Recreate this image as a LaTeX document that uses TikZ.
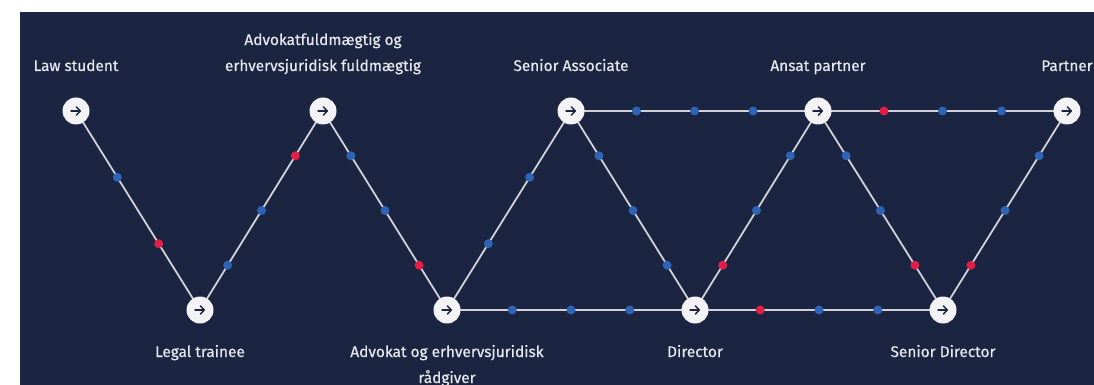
\documentclass[tikz,border=0pt]{standalone}
\usepackage{fontspec}
\setmainfont{Fira Sans}
\newfontfamily\labelfont{Fira Sans}[FakeBold=0.5]
\usetikzlibrary{backgrounds,arrows.meta}
\definecolor{navy}{RGB}{27,36,64}
\definecolor{track}{RGB}{208,210,216}
\definecolor{stepfill}{RGB}{243,243,245}
\definecolor{labeltext}{RGB}{232,233,238}
\definecolor{dotblue}{RGB}{47,99,181}
\definecolor{dotred}{RGB}{224,30,72}
\tikzset{
  career/.style={circle, fill=stepfill, minimum size=27pt, inner sep=0pt,
    path picture={\draw[navy, line width=1.5pt, line cap=round,
        -{Straight Barb[length=3.8pt,width=8pt,line cap=round,line join=round]}]
      ([xshift=-5pt]path picture bounding box.center) -- ([xshift=5pt]path picture bounding box.center);}},
  title/.style={anchor=base, text=labeltext, font=\labelfont\fontsize{15.4}{18}\selectfont, inner sep=0pt},
  track/.style={draw=track, line width=1.8pt},
  bdot/.style={circle, fill=dotblue, minimum size=9pt, inner sep=0pt},
  rdot/.style={circle, fill=dotred, minimum size=9pt, inner sep=0pt},
}
\begin{document}
\begin{tikzpicture}[x=1pt, y=-1pt]
\useasboundingbox (0,0) rectangle (1094,385);

% career steps
\node[career] (law)  at (76,111)  {};
\node[career] (trn)  at (200,310) {};
\node[career] (advf) at (323,111) {};
\node[career] (adv)  at (447,310) {};
\node[career] (sa)   at (571,111) {};
\node[career] (dir)  at (695,310) {};
\node[career] (ap)   at (818,111) {};
\node[career] (sd)   at (943,310) {};
\node[career] (par)  at (1067,111) {};

% titles
\node[title] (tlaw)  at (76,71)  {Law student};
\node[title] (tadvf1) at (323,45) {Advokatfuldmægtig og};
\node[title] (tadvf2) at (323,71) {erhvervsjuridisk fuldmægtig};
\node[title] (tsa)   at (571,71) {Senior Associate};
\node[title] (tap)   at (818,71) {Ansat partner};
\node[title] (tpar)  at (1067,71) {Partner};
\node[title] (ttrn)  at (200,357) {Legal trainee};
\node[title] (tadv1) at (447,357) {Advokat og erhvervsjuridisk};
\node[title] (tadv2) at (447,383) {rådgiver};
\node[title] (tdir)  at (695,357) {Director};
\node[title] (tsd)   at (943,357) {Senior Director};

\begin{scope}[on background layer]
  \fill[navy] (20,12) rectangle (1094,385);
  % paths between steps
  \path[track] (law.center) -- (trn.center)
    node[bdot, pos=0.333] {} node[rdot, pos=0.667] {};
  \path[track] (trn.center) -- (advf.center)
    node[bdot, pos=0.225] {} node[bdot, pos=0.5] {} node[rdot, pos=0.775] {};
  \path[track] (advf.center) -- (adv.center)
    node[bdot, pos=0.225] {} node[bdot, pos=0.5] {} node[rdot, pos=0.775] {};
  \path[track] (adv.center) -- (sa.center)
    node[bdot, pos=0.333] {} node[bdot, pos=0.667] {};
  \path[track] (adv.center) -- (dir.center)
    node[bdot, pos=0.263] {} node[bdot, pos=0.5] {} node[bdot, pos=0.737] {};
  \path[track] (sa.center) -- (dir.center)
    node[bdot, pos=0.225] {} node[bdot, pos=0.5] {} node[bdot, pos=0.775] {};
  \path[track] (sa.center) -- (ap.center)
    node[bdot, pos=0.265] {} node[bdot, pos=0.5] {} node[bdot, pos=0.737] {};
  \path[track] (dir.center) -- (ap.center)
    node[rdot, pos=0.225] {} node[bdot, pos=0.5] {} node[bdot, pos=0.775] {};
  \path[track] (dir.center) -- (sd.center)
    node[rdot, pos=0.263] {} node[bdot, pos=0.5] {} node[bdot, pos=0.737] {};
  \path[track] (ap.center) -- (sd.center)
    node[bdot, pos=0.225] {} node[bdot, pos=0.5] {} node[rdot, pos=0.775] {};
  \path[track] (ap.center) -- (par.center)
    node[rdot, pos=0.265] {} node[bdot, pos=0.5] {} node[bdot, pos=0.737] {};
  \path[track] (sd.center) -- (par.center)
    node[rdot, pos=0.225] {} node[bdot, pos=0.5] {} node[bdot, pos=0.775] {};
\end{scope}
\end{tikzpicture}
\end{document}
